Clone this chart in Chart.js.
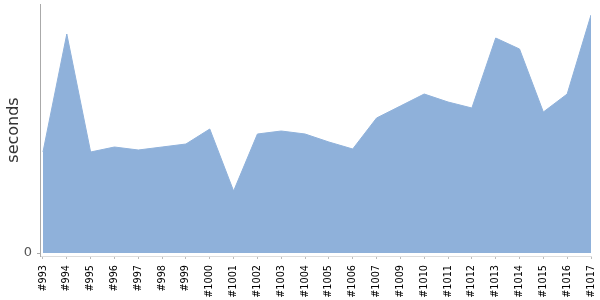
<!DOCTYPE html>
<html>
<head>
<meta charset="utf-8">
<script src="https://cdn.jsdelivr.net/npm/chart.js@4/dist/chart.umd.min.js"></script>
<style>
html,body{margin:0;padding:0;background:#fff;}
#wrap{width:600px;height:300px;}
</style>
</head>
<body>
<div id="wrap"><canvas id="c" width="600" height="300"></canvas></div>
<script>
const builds = ['#993','#994','#995','#996','#997','#998','#999','#1000','#1001','#1002','#1003','#1004','#1005','#1006','#1007','#1009','#1010','#1011','#1012','#1013','#1014','#1015','#1016','#1017'];
const seconds = [101,219,101,106,103,106,109,124,62,119,122,119,111,104,135,147,159,151,145,215,204,141,159,238];
const yTicks = [0];
const yTitle = 'seconds';

const points = seconds.map((v, i) => ({x: i, y: v}));

new Chart(document.getElementById('c'), {
  type: 'line',
  data: {
    datasets: [{
      data: points,
      fill: 'origin',
      backgroundColor: 'rgb(143,177,218)',
      borderColor: 'rgb(143,177,218)',
      borderWidth: 1,
      pointRadius: 0,
      tension: 0
    }]
  },
  options: {
    responsive: false,
    animation: false,
    layout: {padding: {top: 4, right: 9, bottom: 0, left: 0}},
    plugins: {legend: {display: false}, tooltip: {enabled: false}},
    scales: {
      x: {
        type: 'linear',
        min: -0.125,
        max: builds.length - 1,
        afterBuildTicks: s => { s.ticks = builds.map((_, i) => ({value: i})); },
        afterFit: s => { s.paddingLeft = 0; s.paddingRight = 0; s.height = 44; },
        grid: {drawOnChartArea: false, drawTicks: true, tickLength: 3, color: '#bbb'},
        border: {display: true, color: '#ddd'},
        ticks: {
          autoSkip: false,
          maxRotation: 90, minRotation: 90,
          padding: 6,
          color: '#000',
          font: {family: 'DejaVu Sans', size: 9.7},
          callback: v => builds[v]
        }
      },
      y: {
        min: -3,
        max: 249,
        afterBuildTicks: s => { s.ticks = yTicks.map(v => ({value: v})); },
        afterFit: s => { s.paddingTop = 0; s.paddingBottom = 0; s.width = 40; },
        grid: {drawOnChartArea: false, drawTicks: true, tickLength: 3, color: '#aaa'},
        border: {display: true, color: '#aaa'},
        ticks: {color: '#555', padding: 5, font: {family: 'DejaVu Sans', size: 13}},
        title: {display: true, text: yTitle, color: '#333', padding: {top: 4, bottom: 2}, font: {family: 'DejaVu Sans', size: 16}}
      }
    }
  }
});
</script>
</body>
</html>
